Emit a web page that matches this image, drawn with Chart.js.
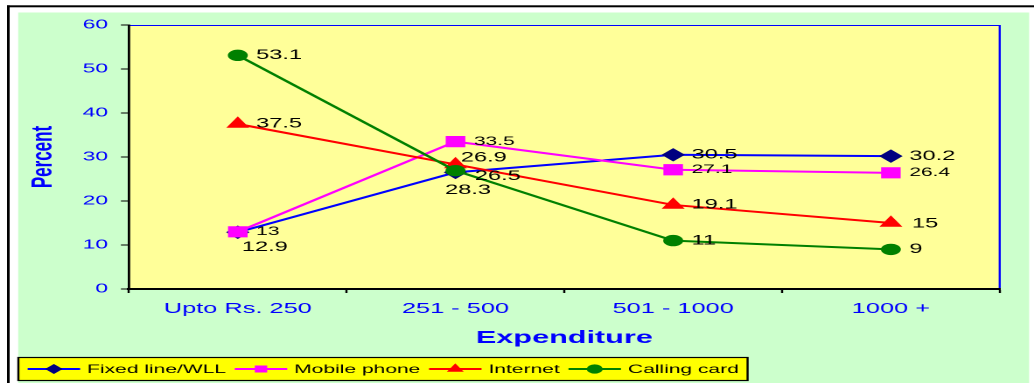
<!DOCTYPE html>
<html>
<head>
<meta charset="utf-8">
<script src="https://cdn.jsdelivr.net/npm/chart.js@4.4.1/dist/chart.umd.min.js"></script>
<style>
  html, body { margin: 0; padding: 0; background: #ffffff; overflow: hidden; }
  /* the chart is laid out narrow and widened horizontally */
  #wrap { width: 591px; height: 383px; transform: scaleX(1.7496); transform-origin: 0 0; }
</style>
</head>
<body>
<div id="wrap"><canvas id="c" width="591" height="383"></canvas></div>
<script>
// Expenditure classes and percentage shares per access mode
const categories = ['Upto Rs. 250', '251 - 500', '501 - 1000', '1000 +'];
const fixedLine = [12.9, 26.5, 30.5, 30.2];
const mobilePhone = [13, 33.5, 27.1, 26.4];
const internet = [37.5, 28.3, 19.1, 15];
const callingCard = [53.1, 26.9, 11, 9];
const seriesNames = ['Fixed line/WLL', 'Mobile phone', 'Internet', 'Calling card'];
const yMin = 0, yMax = 60, yStep = 10;

const FONT = '"Liberation Sans", Arial, sans-serif';
const BLUE = '#0000FF';

// value label placement: default to the right of the point, some nudged apart
const labelDefault = [10.5, 0];
const labelNudge = {
  0: { 0: [2.3, 15], 1: [11, 4] },
  2: { 1: [-6, 26], 3: [12, 1] },
  3: { 1: [3, -13] }
};
const labelFontSize = [13.5, 12, 13.5, 13.5];

const backdrop = {
  id: 'backdrop',
  beforeDraw(chart) {
    const { ctx, chartArea: a, width, height } = chart;
    ctx.save();
    ctx.fillStyle = '#ffffff';
    ctx.fillRect(0, 0, width, height);
    // outer frame
    ctx.fillStyle = '#000000';
    ctx.fillRect(4, 5.3, width, 2);
    ctx.fillRect(4, 5.3, 1.5, height);
    // panel
    ctx.fillStyle = '#CCFFCC';
    ctx.fillRect(10.4, 12.5, 588.2 - 10.4, height - 12.5);
    // plot area
    ctx.fillStyle = '#FFFF99';
    ctx.fillRect(a.left, a.top, a.right - a.left, a.bottom - a.top);
    ctx.strokeStyle = BLUE;
    ctx.lineWidth = 1;
    ctx.beginPath();
    ctx.moveTo(a.left, a.top + 0.5);
    ctx.lineTo(a.right, a.top + 0.5);
    ctx.stroke();
    ctx.lineWidth = 1.2;
    ctx.beginPath();
    ctx.moveTo(a.right, a.top);
    ctx.lineTo(a.right, a.bottom);
    ctx.stroke();
    ctx.restore();
  }
};

const valueLabels = {
  id: 'valueLabels',
  afterDatasetsDraw(chart) {
    const { ctx } = chart;
    ctx.save();
    ctx.fillStyle = '#000000';
    ctx.textAlign = 'left';
    ctx.textBaseline = 'middle';
    chart.data.datasets.forEach((ds, di) => {
      ctx.font = labelFontSize[di] + 'px ' + FONT;
      const meta = chart.getDatasetMeta(di);
      meta.data.forEach((pt, i) => {
        const off = (labelNudge[di] && labelNudge[di][i]) || labelDefault;
        ctx.fillText(String(ds.data[i]), pt.x + off[0], pt.y + off[1]);
      });
    });
    ctx.restore();
  }
};

const legendBox = {
  id: 'legendBox',
  afterDraw(chart) {
    const { ctx } = chart;
    const top = 357.5, h = 23, left = 10.5, cy = 369;
    ctx.save();
    ctx.font = '12px ' + FONT;
    // measure to size the box
    let total = 5.3;
    chart.data.datasets.forEach(ds => { total += 30 + 4 + ctx.measureText(ds.label).width + 5; });
    ctx.fillStyle = '#FFFF00';
    ctx.fillRect(left, top, total, h);
    ctx.strokeStyle = '#000000';
    ctx.lineWidth = 1.2;
    ctx.strokeRect(left, top, total, h);
    let x = left + 5.3;
    chart.data.datasets.forEach(ds => {
      ctx.strokeStyle = ds.borderColor;
      ctx.lineWidth = 2;
      ctx.beginPath();
      ctx.moveTo(x, cy);
      ctx.lineTo(x + 30, cy);
      ctx.stroke();
      ctx.fillStyle = ds.pointBackgroundColor;
      ctx.strokeStyle = ds.pointBorderColor;
      Chart.helpers.drawPoint(ctx, { pointStyle: ds.pointStyle, radius: 3.6, rotation: 0, borderWidth: 1 }, x + 15, cy);
      ctx.fillStyle = '#000000';
      ctx.textAlign = 'left';
      ctx.textBaseline = 'middle';
      ctx.fillText(ds.label, x + 34, cy + 0.5);
      x += 30 + 4 + ctx.measureText(ds.label).width + 5;
    });
    ctx.restore();
  }
};

// later series are stacked on top of earlier ones
function series(label, data, line, marker, style, radius, order) {
  return {
    label, data, order,
    borderColor: line,
    backgroundColor: marker,
    borderWidth: 2,
    pointStyle: style,
    pointRadius: radius,
    pointHoverRadius: radius,
    pointBackgroundColor: marker,
    pointBorderColor: marker,
    pointBorderWidth: 1,
    tension: 0,
    fill: false,
    clip: false
  };
}

new Chart(document.getElementById('c'), {
  type: 'line',
  data: {
    labels: categories,
    datasets: [
      series(seriesNames[0], fixedLine, '#0000FF', '#000080', 'rectRot', 6, 3),
      series(seriesNames[1], mobilePhone, '#FF00FF', '#FF00FF', 'rect', 7.2, 2),
      series(seriesNames[2], internet, '#FF0000', '#FF0000', 'triangle', 6.6, 1),
      series(seriesNames[3], callingCard, '#008000', '#008000', 'circle', 5.2, 0)
    ]
  },
  options: {
    responsive: false,
    devicePixelRatio: 2,
    animation: false,
    events: [],
    layout: { padding: { top: 25, right: 19.6, bottom: 33, left: 0 } },
    plugins: {
      legend: { display: false },
      tooltip: { enabled: false },
      title: { display: false }
    },
    scales: {
      x: {
        type: 'category',
        offset: true,
        grid: {
          offset: true,
          drawOnChartArea: false,
          drawTicks: true,
          tickLength: 4,
          tickColor: '#000000',
          tickWidth: 1.2
        },
        border: { display: true, color: '#000000', width: 2 },
        ticks: {
          color: BLUE,
          font: { family: FONT, size: 14.5 },
          padding: 7.3,
          maxRotation: 0,
          autoSkip: false
        },
        title: {
          display: true,
          text: 'Expenditure',
          color: BLUE,
          font: { family: FONT, size: 17.5, weight: 'bold' },
          padding: { top: 0, bottom: 1.5 }
        },
        afterFit(scale) { scale.height = 61; }
      },
      y: {
        min: yMin,
        max: yMax,
        grid: {
          drawOnChartArea: false,
          drawTicks: true,
          tickLength: 4.6,
          tickColor: '#000000',
          tickWidth: 1
        },
        border: { display: true, color: '#000000', width: 1.4 },
        ticks: {
          stepSize: yStep,
          color: BLUE,
          font: { family: FONT, size: 13 },
          padding: 7.4
        },
        title: {
          display: true,
          text: 'Percent',
          color: BLUE,
          font: { family: FONT, size: 17, weight: 'bold' },
          padding: { top: 14.8, bottom: 0 }
        },
        afterFit(scale) { scale.width = 73.7; }
      }
    }
  },
  plugins: [backdrop, valueLabels, legendBox]
});
</script>
</body>
</html>
